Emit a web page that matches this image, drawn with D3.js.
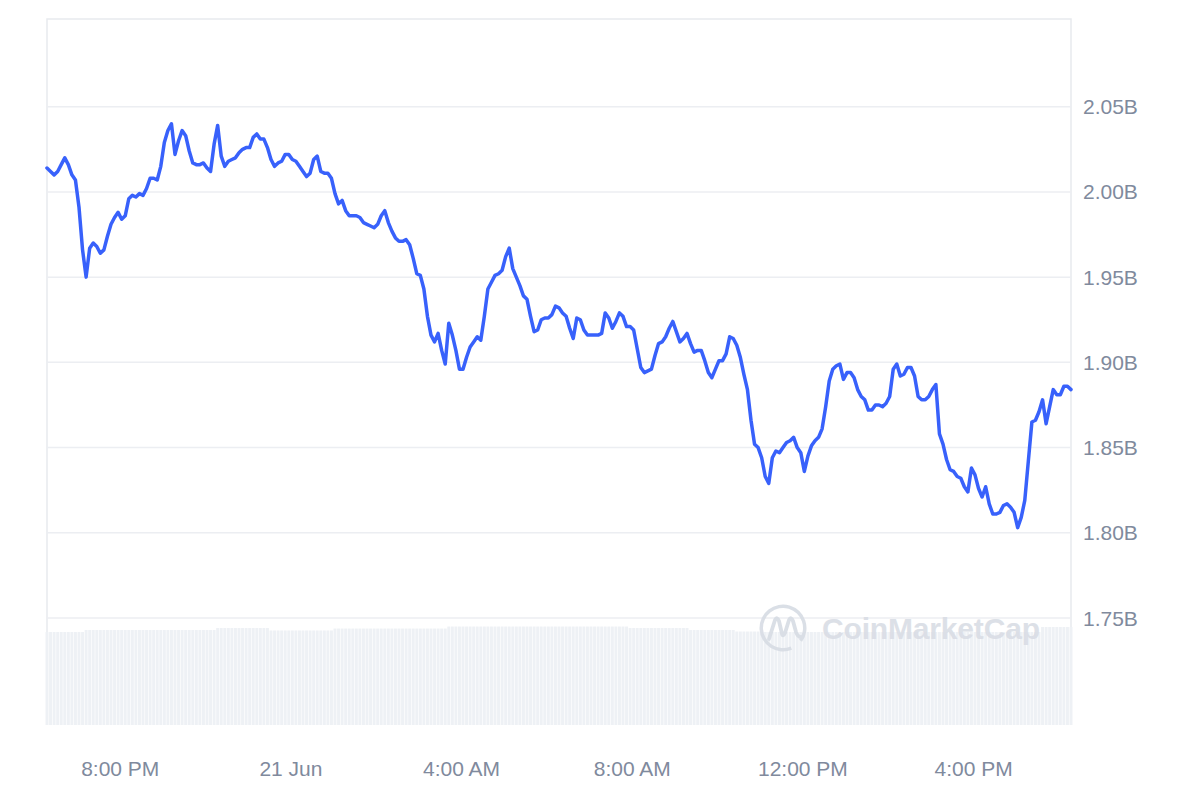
<!DOCTYPE html>
<html lang="en">
	<head>
		<meta charset="utf-8">
		<script src="https://d3js.org/d3.v7.min.js"></script>
		<style>
			body { margin: 0; background: #ffffff; }
			text { font-family: "Liberation Sans", Arial, sans-serif; }
		</style>
	</head>
	<body>
		<script type="text/javascript">

			//Width and height
			var w = 1200;
			var h = 800;

			//Series start and step (5 minute points, UTC)
			var startTime = "2023-06-20T18:17:00Z";
			var stepMinutes = 5;

			//Market cap, billions
			var marketCap = [
				2.014, 2.012, 2.010, 2.012, 2.016, 2.020, 2.016, 2.010, 2.007, 1.991,
				1.966, 1.950, 1.967, 1.970, 1.968, 1.964, 1.966, 1.974, 1.981, 1.985,
				1.988, 1.984, 1.986, 1.996, 1.998, 1.997, 1.999, 1.998, 2.002, 2.008,
				2.008, 2.007, 2.015, 2.029, 2.036, 2.040, 2.022, 2.030, 2.036, 2.033,
				2.024, 2.017, 2.016, 2.016, 2.017, 2.014, 2.012, 2.028, 2.039, 2.021,
				2.015, 2.018, 2.019, 2.020, 2.023, 2.025, 2.026, 2.026, 2.032, 2.034,
				2.031, 2.031, 2.026, 2.019, 2.015, 2.017, 2.018, 2.022, 2.022, 2.019,
				2.018, 2.015, 2.012, 2.009, 2.011, 2.019, 2.021, 2.012, 2.011, 2.011,
				2.008, 1.999, 1.993, 1.995, 1.989, 1.986, 1.986, 1.986, 1.985, 1.982,
				1.981, 1.980, 1.979, 1.981, 1.986, 1.989, 1.982, 1.977, 1.973, 1.971,
				1.971, 1.972, 1.969, 1.961, 1.952, 1.951, 1.943, 1.927, 1.916, 1.912,
				1.917, 1.907, 1.899, 1.923, 1.916, 1.907, 1.896, 1.896, 1.903, 1.909,
				1.912, 1.915, 1.913, 1.927, 1.943, 1.947, 1.951, 1.952, 1.954, 1.962,
				1.967, 1.955, 1.950, 1.945, 1.939, 1.937, 1.927, 1.918, 1.919, 1.925,
				1.926, 1.926, 1.928, 1.933, 1.932, 1.929, 1.927, 1.920, 1.914, 1.926,
				1.925, 1.919, 1.916, 1.916, 1.916, 1.916, 1.917, 1.929, 1.926, 1.920,
				1.924, 1.929, 1.927, 1.921, 1.921, 1.919, 1.908, 1.897, 1.894, 1.895,
				1.896, 1.904, 1.911, 1.912, 1.915, 1.920, 1.924, 1.918, 1.912, 1.914,
				1.917, 1.911, 1.906, 1.907, 1.907, 1.901, 1.894, 1.891, 1.896, 1.901,
				1.901, 1.905, 1.915, 1.914, 1.910, 1.903, 1.893, 1.884, 1.866, 1.852,
				1.850, 1.844, 1.833, 1.829, 1.844, 1.848, 1.847, 1.850, 1.853, 1.854,
				1.856, 1.850, 1.847, 1.836, 1.845, 1.851, 1.854, 1.856, 1.861, 1.874,
				1.889, 1.896, 1.898, 1.899, 1.890, 1.894, 1.894, 1.891, 1.884, 1.880,
				1.878, 1.872, 1.872, 1.875, 1.875, 1.874, 1.876, 1.880, 1.896, 1.899,
				1.892, 1.893, 1.897, 1.897, 1.892, 1.880, 1.878, 1.878, 1.880, 1.884,
				1.887, 1.858, 1.852, 1.843, 1.837, 1.836, 1.833, 1.832, 1.827, 1.824,
				1.838, 1.834, 1.826, 1.821, 1.827, 1.817, 1.811, 1.811, 1.812, 1.816,
				1.817, 1.815, 1.812, 1.803, 1.809, 1.819, 1.842, 1.865, 1.866, 1.871,
				1.878, 1.864, 1.874, 1.884, 1.881, 1.881, 1.886, 1.886, 1.884
			];

			//Volume, millions
			var volume = [
				87.7, 87.7, 87.7, 87.7, 87.7, 87.7, 87.7, 87.7, 87.7, 87.7,
				87.7, 89.6, 89.6, 89.6, 89.6, 89.6, 89.6, 89.6, 89.6, 89.6,
				89.6, 89.6, 89.6, 89.6, 89.6, 89.6, 89.6, 89.6, 89.6, 89.6,
				89.6, 89.6, 89.6, 89.6, 89.6, 89.6, 89.6, 89.6, 89.6, 89.6,
				89.6, 89.6, 89.6, 89.6, 89.6, 89.6, 89.6, 89.6, 91.5, 91.5,
				91.5, 91.5, 91.5, 91.5, 91.5, 91.5, 91.5, 91.5, 91.5, 91.5,
				91.5, 91.5, 91.5, 89.2, 89.2, 89.2, 89.2, 89.2, 89.2, 89.2,
				89.2, 89.2, 89.2, 89.2, 89.2, 89.2, 89.2, 89.2, 89.2, 89.2,
				89.2, 91.0, 91.0, 91.0, 91.0, 91.0, 91.0, 91.0, 91.0, 91.0,
				91.0, 91.0, 91.0, 91.0, 91.0, 91.0, 91.0, 91.0, 91.0, 91.0,
				91.0, 91.0, 91.0, 91.0, 91.0, 91.0, 91.0, 91.0, 91.0, 91.0,
				91.0, 91.0, 91.0, 92.9, 92.9, 92.9, 92.9, 92.9, 92.9, 92.9,
				92.9, 92.9, 92.9, 92.9, 92.9, 92.9, 92.9, 92.9, 92.9, 92.9,
				92.9, 92.9, 92.9, 92.9, 92.9, 92.9, 92.9, 92.9, 92.9, 92.9,
				92.9, 92.9, 92.9, 92.9, 92.9, 92.9, 92.9, 92.9, 92.9, 92.9,
				92.9, 92.9, 92.9, 92.9, 92.9, 92.9, 92.9, 92.9, 92.9, 92.9,
				92.9, 92.9, 92.9, 92.9, 91.5, 91.5, 91.5, 91.5, 91.5, 91.5,
				91.5, 91.5, 91.5, 91.5, 91.5, 91.5, 91.5, 91.5, 91.5, 91.5,
				91.5, 89.6, 89.6, 89.6, 89.6, 89.6, 89.6, 89.6, 89.6, 89.6,
				89.6, 89.6, 89.6, 89.6, 88.2, 88.2, 88.2, 88.2, 88.2, 88.2,
				88.2, 87.7, 87.7, 87.7, 87.7, 87.7, 87.7, 87.7, 87.7, 87.7,
				87.7, 87.7, 87.7, 87.7, 87.7, 87.7, 87.7, 87.7, 87.7, 87.7,
				87.7, 87.7, 87.7, 87.7, 87.7, 87.7, 87.7, 87.7, 87.7, 87.7,
				87.7, 87.7, 87.7, 87.7, 87.7, 87.7, 87.7, 87.7, 87.7, 87.7,
				87.7, 87.7, 87.7, 87.7, 87.7, 87.7, 87.7, 87.7, 87.7, 87.7,
				87.7, 87.7, 87.7, 87.7, 87.7, 87.7, 87.7, 87.7, 87.7, 87.7,
				87.7, 87.7, 87.7, 87.7, 87.7, 87.7, 87.7, 87.7, 87.7, 87.7,
				87.7, 87.7, 87.7, 87.7, 87.7, 87.7, 87.7, 87.7, 87.7, 87.7,
				92.5, 92.5, 92.5, 92.5, 92.5, 92.5, 92.5, 92.5, 92.5
			];

			//Y axis tick values, billions
			var yTicks = [1.75, 1.80, 1.85, 1.90, 1.95, 2.00, 2.05];

			var t0 = new Date(startTime);
			var data = marketCap.map(function(v, i) {
				return {
					date: new Date(t0.getTime() + i * stepMinutes * 60000),
					value: v,
					volume: volume[i]
				};
			});

			//Plot box
			var boxLeft = 47, boxRight = 1071, boxTop = 19, boxBottom = 725;

			var x = d3.scaleUtc()
					  .domain(d3.extent(data, function(d) { return d.date; }))
					  .range([boxLeft, boxRight]);

			var y = d3.scaleLinear()
					  .domain([1.75, 2.05])
					  .range([618, 106.7]);

			var yVol = d3.scaleLinear()
						 .domain([0, 100])
						 .range([boxBottom, 619]);

			//Create SVG element
			var svg = d3.select("body")
						.append("svg")
						.attr("width", w)
						.attr("height", h);

			//Frame
			svg.append("path")
			   .attr("d", "M" + boxLeft + "," + boxBottom + "V" + boxTop + "H" + boxRight + "V" + boxBottom)
			   .style("fill", "none")
			   .style("stroke", "#e8eaee")
			   .style("stroke-width", 1.5);

			//Grid lines
			svg.selectAll("line.grid")
			   .data(yTicks)
			   .enter()
			   .append("line")
			   .attr("class", "grid")
			   .attr("x1", boxLeft)
			   .attr("x2", boxRight)
			   .attr("y1", function(d) { return y(d); })
			   .attr("y2", function(d) { return y(d); })
			   .style("stroke", "#eceef2")
			   .style("stroke-width", 1.5);

			//Volume bars
			var step = x(data[1].date) - x(data[0].date);
			svg.selectAll("rect.vol")
			   .data(data)
			   .enter()
			   .append("rect")
			   .attr("class", "vol")
			   .attr("x", function(d) { return x(d.date) - step / 2 + 0.3; })
			   .attr("width", step - 0.6)
			   .attr("y", function(d) { return yVol(d.volume); })
			   .attr("height", function(d) { return boxBottom - yVol(d.volume); })
			   .style("fill", "#eef1f5");

			//Watermark
			var wm = svg.append("g")
						.attr("transform", "translate(783,628)")
						.style("opacity", 0.9);
			wm.append("path")
			  .attr("d", d3.arc()({ innerRadius: 20, outerRadius: 23.5, startAngle: 2.75, endAngle: 2 * Math.PI + 2.2 }))
			  .style("fill", "#d7dce4");
			wm.append("path")
			  .attr("d", "M-14,11 L-8,-8 Q-6,-12 -4,-7 L-1,6 Q0,9 2,5 L6,-8 Q8,-12 10,-7 L13,4 Q15,10 19,9")
			  .style("fill", "none")
			  .style("stroke", "#d7dce4")
			  .style("stroke-width", 3.8)
			  .style("stroke-linecap", "round")
			  .style("stroke-linejoin", "round");
			wm.append("text")
			  .attr("x", 39)
			  .attr("y", 11)
			  .attr("textLength", 218)
			  .style("font-size", "30px")
			  .style("font-weight", "bold")
			  .style("fill", "#d9dde5")
			  .text("CoinMarketCap");

			//Price line
			var line = d3.line()
						 .x(function(d) { return x(d.date); })
						 .y(function(d) { return y(d.value); });

			svg.append("path")
			   .datum(data)
			   .attr("d", line)
			   .style("fill", "none")
			   .style("stroke", "#3861fb")
			   .style("stroke-width", 3.5)
			   .style("stroke-linejoin", "round")
			   .style("stroke-linecap", "round");

			//Y axis labels
			svg.selectAll("text.ylab")
			   .data(yTicks)
			   .enter()
			   .append("text")
			   .attr("class", "ylab")
			   .attr("x", 1083)
			   .attr("y", function(d) { return y(d); })
			   .attr("dy", "0.36em")
			   .style("font-size", "21px")
			   .style("fill", "#808a9d")
			   .text(function(d) { return d3.format(".2f")(d) + "B"; });

			//X axis labels
			var fmtHour = d3.utcFormat("%-I:%M %p");
			var fmtDay = d3.utcFormat("%-d %b");
			svg.selectAll("text.xlab")
			   .data(x.ticks(d3.utcHour.every(4)))
			   .enter()
			   .append("text")
			   .attr("class", "xlab")
			   .attr("x", function(d) { return x(d); })
			   .attr("y", 768)
			   .attr("dy", "0.36em")
			   .attr("text-anchor", "middle")
			   .style("font-size", "21px")
			   .style("fill", "#808a9d")
			   .text(function(d) { return d.getUTCHours() === 0 ? fmtDay(d) : fmtHour(d); });

		</script>
	</body>
</html>
